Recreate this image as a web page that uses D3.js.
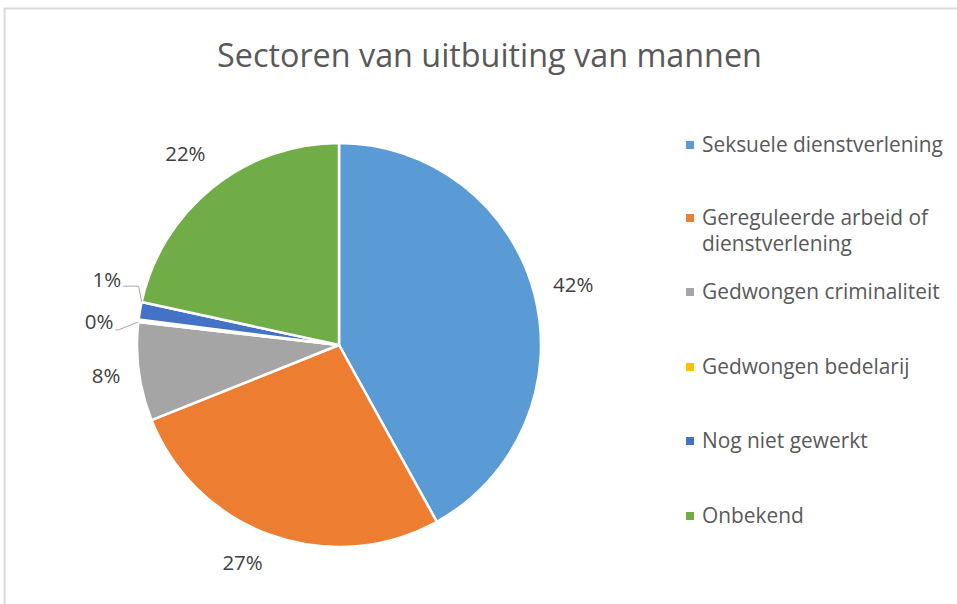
<!DOCTYPE html>
<html><head><meta charset="utf-8">
<script src="https://cdn.jsdelivr.net/npm/d3@7"></script>
<style>body{margin:0;background:#fff}svg{display:block}</style>
</head><body>
<script>
const title = "Sectoren van uitbuiting van mannen";
const categories = ["Seksuele dienstverlening","Gereguleerde arbeid of dienstverlening","Gedwongen criminaliteit","Gedwongen bedelarij","Nog niet gewerkt","Onbekend"];
const legendLines = [["Seksuele dienstverlening"],["Gereguleerde arbeid of","dienstverlening"],["Gedwongen criminaliteit"],["Gedwongen bedelarij"],["Nog niet gewerkt"],["Onbekend"]];
const values = [42, 27, 7.9, 0.2, 1.4, 21.6];
const colors = ["#5b9bd5","#ed7d31","#a5a5a5","#ffc000","#4472c4","#70ad47"];

const W = 957, H = 604;
const svg = d3.select("body").append("svg").attr("width", W).attr("height", H);
const font = "'Open Sans', 'Liberation Sans', sans-serif";

// chart border
svg.append("rect").attr("x", 4.5).attr("y", 8.5).attr("width", W + 10).attr("height", H + 10)
  .attr("fill", "none").attr("stroke", "#d9d9d9").attr("stroke-width", 2);

// title
const t = svg.append("text").attr("x", 489.5).attr("y", 67).attr("text-anchor", "middle")
  .attr("fill", "#595959").style("font-family", font).style("font-size", "26px").text(title);
const tw = t.node().getComputedTextLength();
t.style("font-size", (26 * 545 / tw) + "px");

const cx = 339, cy = 345, R = 202;
const g = svg.append("g").attr("transform", `translate(${cx},${cy})`);
const total = d3.sum(values);
const pie = d3.pie().sort(null).value(d => d)(values);
const arc = d3.arc().innerRadius(0).outerRadius(R);

g.selectAll("path.slice").data(pie).join("path").attr("class", "slice")
  .attr("d", arc).attr("fill", (d, i) => colors[i])
  .attr("stroke", "#fff").attr("stroke-width", 2.5).attr("stroke-linejoin", "round");

// labels (best-fit style placement)
const angleNudge = {1: 0.075};
const radiusFor = {0: 242, 1: 238, 2: 235, 5: 245};
const fixedAngle = {3: 275.5 * Math.PI / 180, 4: 285.6 * Math.PI / 180};
pie.forEach((d, i) => {
  let a = (d.startAngle + d.endAngle) / 2;
  if (fixedAngle[i] !== undefined) a = fixedAngle[i];
  else if (angleNudge[i]) a += angleNudge[i];
  const r = radiusFor[i] !== undefined ? radiusFor[i] : 241;
  const x = Math.sin(a) * r, y = -Math.cos(a) * r;
  const txt = Math.round(values[i] / total * 100) + "%";
  const lab = g.append("text").attr("x", x).attr("y", y).attr("dy", "0.35em")
    .attr("text-anchor", "middle").attr("fill", "#404040")
    .style("font-family", font).style("font-size", "20.5px").text(txt);
  if (i === 3 || i === 4) {
    const bb = lab.node().getBBox();
    const ex = Math.sin(i === 4 ? d.endAngle : d.startAngle) * R;
    const ey = -Math.cos(i === 4 ? d.endAngle : d.startAngle) * R;
    const x0 = bb.x + bb.width + 2, y0 = (i === 4) ? y + 6 : y + 8;
    const elbowX = i === 4 ? ex - 3 : ex - 20;
    g.append("polyline").attr("points", `${x0},${y0} ${elbowX},${y0} ${ex},${ey}`)
      .attr("fill", "none").attr("stroke", "#a6a6a6").attr("stroke-width", 1);
  }
});

// legend
const lx = 686, rows = [145, 218, 292, 367, 441, 516];
legendLines.forEach((lines, i) => {
  svg.append("rect").attr("x", lx).attr("y", rows[i] - 4).attr("width", 8).attr("height", 8).attr("fill", colors[i]);
  lines.forEach((ln, j) => {
    svg.append("text").attr("x", 702).attr("y", rows[i] + j * 26 - (lines.length > 1 ? 0.5 : 0)).attr("dy", "0.35em")
      .attr("fill", "#595959").style("font-family", font).style("font-size", "18px")
      .attr("class", "leg").text(ln);
  });
});
const first = svg.select("text.leg").node().getComputedTextLength();
const fs = 18 * 241 / first;
svg.selectAll("text.leg").style("font-size", fs + "px");
</script>
</body></html>
